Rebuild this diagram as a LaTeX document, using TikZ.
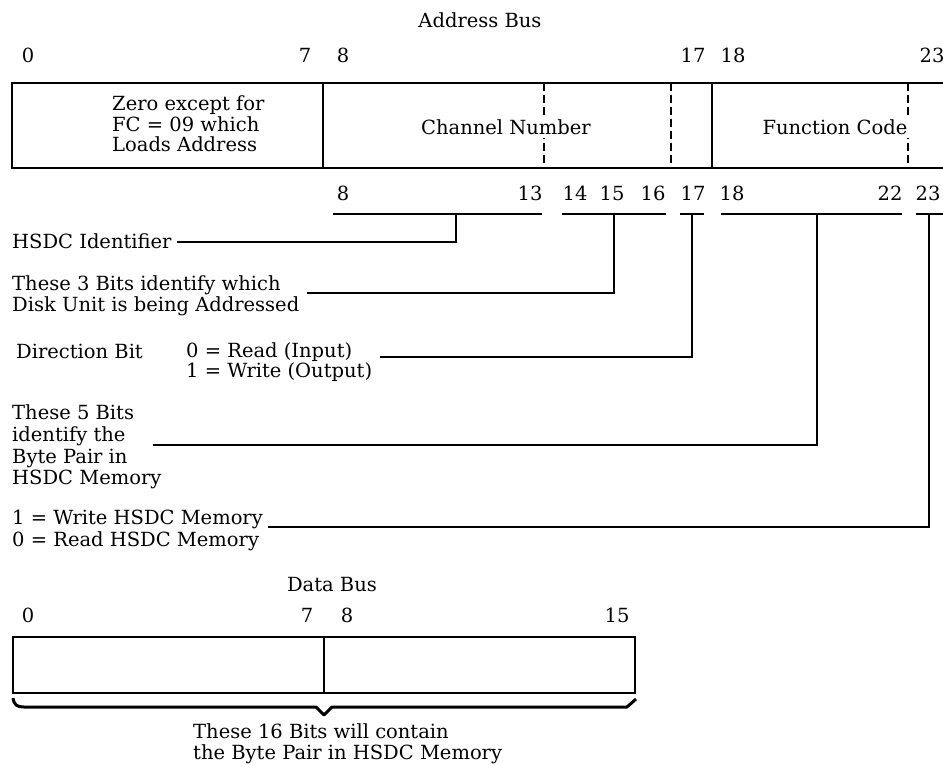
\documentclass[tikz,border=0pt]{standalone}
\usepackage{fontspec}
\setmainfont{DejaVu Serif}
\begin{document}
\begin{tikzpicture}[x=1pt,y=-1pt,
  txt/.style={inner sep=0pt, font=\fontsize{19.5}{20.5}\selectfont},
  blk/.style={txt, align=left, anchor=west},
  num/.style={txt},
  boxline/.style={line width=2.2pt},
  dashln/.style={line width=1.8pt, dash pattern=on 8pt off 4pt},
  conn/.style={line width=2.2pt},
  brk/.style={line width=2.2pt},
  brace/.style={line width=3pt, line join=round},
  ]
\useasboundingbox (0,0) rectangle (943,765);

% ---------- Address bus register ----------
\draw[boxline] (943,83) -- (12,83) -- (12,168) -- (943,168);
\draw[boxline] (323,83) -- (323,168);
\draw[boxline] (712,83) -- (712,168);
\draw[dashln] (544,83) -- (544,168);
\draw[dashln] (671,83) -- (671,168);
\draw[dashln] (908,83) -- (908,168);

\node[txt] (abus) at (480,20) {Address Bus};
\node[num] (t0)  at (28,55)  {0};
\node[num] (t7)  at (305,55) {7};
\node[num] (t8)  at (343,55) {8};
\node[num] (t17) at (693,55) {17};
\node[num] (t18) at (733,55) {18};
\node[num] (t23) at (932,55) {23};

\node[blk] (zero) at (112,124) {Zero except for\\FC = 09 which\\Loads Address};
\node[txt, fill=white, inner xsep=2pt, inner ysep=3pt] (chan) at (506,127) {Channel Number};
\node[txt, fill=white, inner xsep=3pt, inner ysep=3pt] (func) at (835,127) {Function Code};

% ---------- bit numbers under register ----------
\node[num] (b8)  at (343,193) {8};
\node[num] (b13) at (530,193) {13};
\node[num] (b14) at (575,193) {14};
\node[num] (b15) at (612,193) {15};
\node[num] (b16) at (653,193) {16};
\node[num] (b17) at (693,193) {17};
\node[num] (b18) at (732,193) {18};
\node[num] (b22) at (890,193) {22};
\node[num] (b23) at (928,193) {23};

% ---------- field brackets ----------
\coordinate (d1) at (456,214);
\coordinate (d2) at (614,214);
\coordinate (d3) at (692,214);
\coordinate (d4) at (817,214);
\coordinate (d5) at (929,214);
\draw[brk] (333,214) -- (542,214);
\draw[brk] (562,214) -- (666,214);
\draw[brk] (680,214) -- (704,214);
\draw[brk] (721,214) -- (902,214);
\draw[brk] (916,214) -- (943,214);

% ---------- labels ----------
\node[txt, anchor=base west] (hsdc) at (12,248) {HSDC Identifier};
\node[blk] (three) at (12,296) {These 3 Bits identify which\\Disk Unit is being Addressed};
\node[txt, anchor=base west] (dir) at (16,358) {Direction Bit};
\node[blk] (rw) at (186,362) {0 = Read (Input)\\1 = Write (Output)};
\node[blk, font=\fontsize{19.5}{21.7}\selectfont] (five) at (12,447) {These 5 Bits\\identify the\\Byte Pair in\\HSDC Memory};
\node[blk, font=\fontsize{19.5}{22}\selectfont] (wr) at (12,530) {1 = Write HSDC Memory\\0 = Read HSDC Memory};

% ---------- connectors ----------
\coordinate (e1) at (177,242);
\coordinate (e2) at (307,293);
\coordinate (e3) at (380,357);
\coordinate (e4) at (153,445);
\coordinate (e5) at (268,527);
\draw[conn] (e1) -| (d1);
\draw[conn] (e2) -| (d2);
\draw[conn] (e3) -| (d3);
\draw[conn] (e4) -| (d4);
\draw[conn] (e5) -| (d5);

% ---------- Data bus register ----------
\node[txt] (dbus) at (332,585) {Data Bus};
\node[num] (u0)  at (28,615)  {0};
\node[num] (u7)  at (307,615) {7};
\node[num] (u8)  at (347,615) {8};
\node[num] (u15) at (617,615) {15};

\draw[boxline] (13,637) rectangle (635,693);
\draw[boxline] (324,637) -- (324,693);

\draw[brace] (13,698) .. controls (14,705) and (17,707) .. (24,707) -- (316,707) -- (324,715) -- (332,707) -- (627,707) -- (636,699);

\node[blk] (sixteen) at (193,744) {These 16 Bits will contain\\the Byte Pair in HSDC Memory};
\end{tikzpicture}
\end{document}
